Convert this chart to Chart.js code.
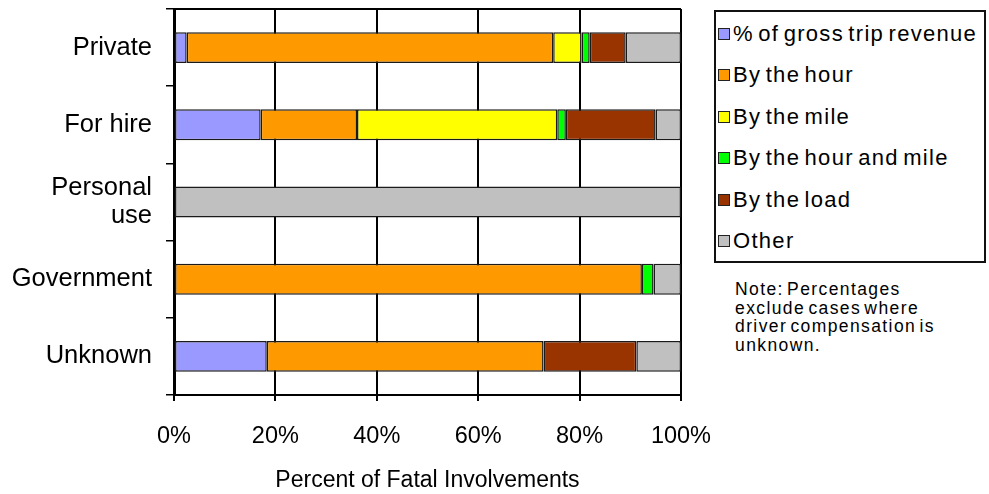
<!DOCTYPE html>
<html>
<head>
<meta charset="utf-8">
<script src="https://cdn.jsdelivr.net/npm/chart.js@4.4.0/dist/chart.umd.min.js"></script>
<style>
  body { margin: 0; background: #fff; font-family: 'Liberation Sans', Arial, sans-serif; }
  #wrap { position: relative; width: 989px; height: 494px; }
  #chartBox { position: absolute; left: 0; top: 0; width: 732px; height: 494px; }
  #legend {
    position: absolute; left: 714px; top: 10px; width: 268px; height: 249px;
    border: 2px solid #111; box-sizing: content-box; background: #fff;
  }
  .item { position: absolute; left: 2px; height: 26px; display: flex; align-items: center; font-size: 22px; color: #000; white-space: nowrap; letter-spacing: 1.3px; word-spacing: -3px; }
  .swatch { width: 10px; height: 10px; border: 1.5px solid #222; margin-right: 3px; flex: none; }
  #note { position: absolute; left: 735px; top: 280px; font-size: 17.5px; line-height: 18.5px; color: #000; letter-spacing: 1.4px; word-spacing: -3px; }
</style>
</head>
<body>
<div id="wrap">
  <div id="chartBox"><canvas id="chart"></canvas></div>
  <div id="legend"></div>
  <div id="note">Note: Percentages<br>exclude cases where<br>driver compensation is<br>unknown.</div>
</div>
<script>
const categories = ['Private', 'For hire', ['Personal', 'use'], 'Government', 'Unknown'];
const seriesNames = ['% of gross trip revenue', 'By the hour', 'By the mile', 'By the hour and mile', 'By the load', 'Other'];
const seriesColors = ['#9999FF', '#FF9900', '#FFFF00', '#00FF00', '#993300', '#C0C0C0'];

// percent of fatal involvements, one array per pay method, in category order
const grossRevenue = [2.5, 17.1, 0, 0, 18.3];
const byHour = [72.3, 19.0, 0, 92.3, 54.6];
const byMile = [5.6, 39.5, 0, 0, 0];
const byHourAndMile = [1.6, 1.7, 0, 2.3, 0];
const byLoad = [7.1, 17.7, 0, 0, 18.3];
const other = [10.9, 5.0, 100, 5.4, 8.8];

const xTicks = [0, 20, 40, 60, 80, 100];

const seriesValues = [grossRevenue, byHour, byMile, byHourAndMile, byLoad, other];

const datasets = seriesValues.map((vals, i) => ({
  label: seriesNames[i],
  data: vals,
  backgroundColor: seriesColors[i],
  borderColor: '#1a1a1a',
  borderWidth: 1.5,
  borderSkipped: false,
  barPercentage: 0.4,
  categoryPercentage: 1.0,
}));

const family = "'Liberation Sans', Arial, sans-serif";

new Chart(document.getElementById('chart'), {
  type: 'bar',
  data: { labels: categories, datasets },
  options: {
    indexAxis: 'y',
    responsive: true,
    maintainAspectRatio: false,
    animation: false,
    layout: { padding: { top: 9, right: 47, left: 0, bottom: 0 } },
    plugins: {
      legend: { display: false },
      tooltip: { enabled: false },
    },
    scales: {
      x: {
        stacked: true,
        min: 0,
        max: 100,
        afterBuildTicks: (scale) => { scale.ticks = xTicks.map(v => ({ value: v })); },
        ticks: {
          color: '#000',
          font: { family, size: 23.5 },
          padding: 21,
          maxRotation: 0,
          callback: (v) => v + '%',
        },
        grid: { color: '#000', lineWidth: 2, tickLength: 6 },
        border: { color: '#000', width: 2 },
        title: {
          display: true,
          text: 'Percent of Fatal Involvements',
          color: '#000',
          font: { family, size: 23 },
          padding: { top: 0, bottom: 0 },
        },
        afterFit: (scale) => { scale.height = 99; },
      },
      xTop: {
        position: 'top',
        axis: 'x',
        min: 0,
        max: 100,
        ticks: { display: false },
        grid: { display: false },
        border: { color: '#000', width: 2 },
        afterFit: (scale) => { scale.height = 0; },
      },
      y: {
        stacked: true,
        ticks: {
          color: '#000',
          font: { family, size: 25.5, lineHeight: 1.1 },
          padding: 14,
        },
        grid: {
          color: '#000',
          lineWidth: 1.5,
          drawOnChartArea: false,
          tickLength: 8,
          offset: true,
        },
        border: { color: '#000', width: 3 },
        afterFit: (scale) => {
          scale.width = 174;
          scale.paddingTop = 0;
          scale.paddingBottom = 0;
        },
      },
    },
  },
});

// legend drawn from the same series arrays
const legendEl = document.getElementById('legend');
seriesNames.forEach((name, i) => {
  const row = document.createElement('div');
  row.className = 'item';
  row.style.top = (9 + i * 41.4) + 'px';
  const sw = document.createElement('span');
  sw.className = 'swatch';
  sw.style.background = seriesColors[i];
  row.appendChild(sw);
  row.appendChild(document.createTextNode(name));
  legendEl.appendChild(row);
});
</script>
</body>
</html>
